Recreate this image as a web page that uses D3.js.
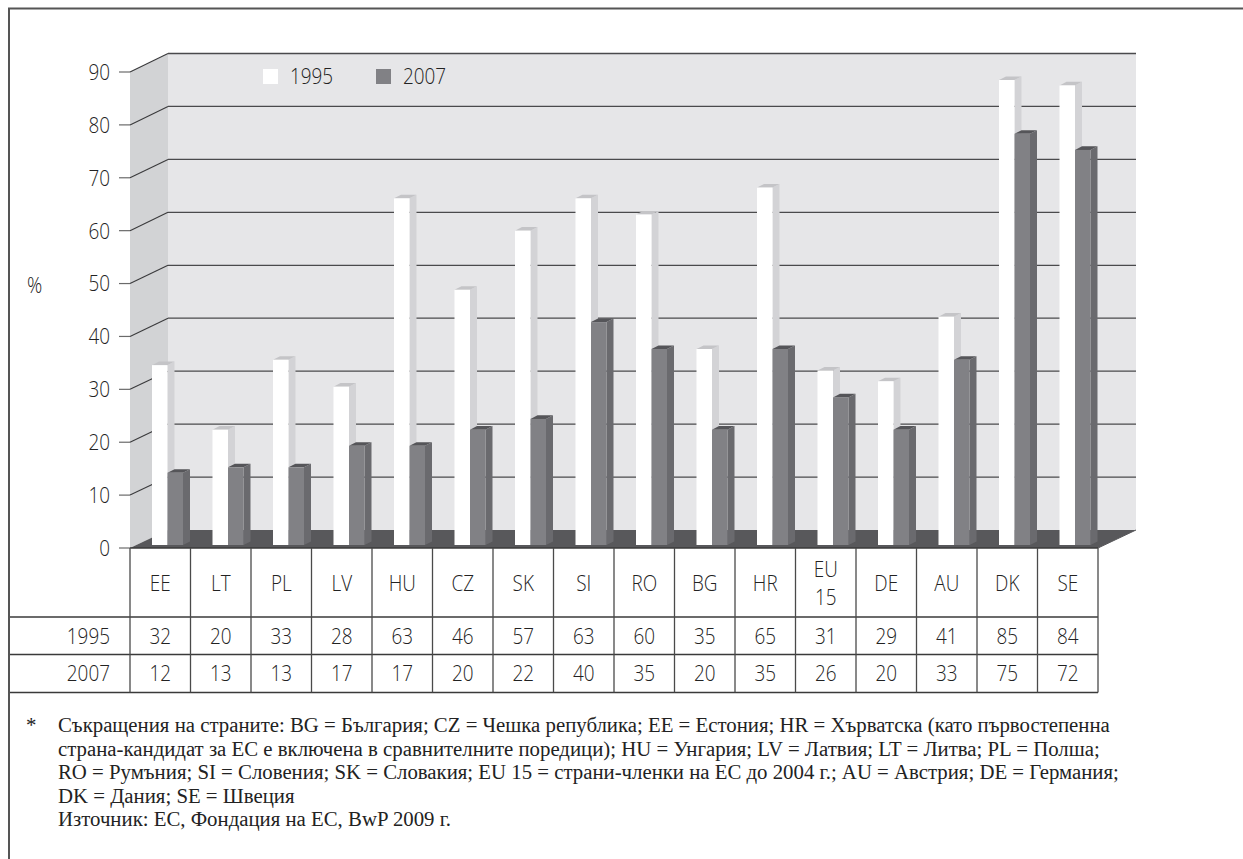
<!DOCTYPE html>
<html>
<head>
<meta charset="utf-8">
<script src="https://cdn.jsdelivr.net/npm/d3@7"></script>
<style>
  body { margin: 0; background: #fff; }
  svg { display: block; }
</style>
</head>
<body>
<svg id="chart" width="1243" height="859"></svg>
<script>
// Data
const categories = ["EE", "LT", "PL", "LV", "HU", "CZ", "SK", "SI", "RO", "BG", "HR", "EU 15", "DE", "AU", "DK", "SE"];
const seriesNames = ["1995", "2007"];
const values1995 = [32, 20, 33, 28, 63, 46, 57, 63, 60, 35, 65, 31, 29, 41, 85, 84];
const values2007 = [12, 13, 13, 17, 17, 20, 22, 40, 35, 20, 35, 26, 20, 33, 75, 72];
const yTickValues = [0, 10, 20, 30, 40, 50, 60, 70, 80, 90];
const axisTitle = "%";
const noteLines = [
  "Съкращения на страните: BG = България; CZ = Чешка република; EE = Естония; HR = Хърватска (като първостепенна",
  "страна-кандидат за ЕС е включена в сравнителните поредици); HU = Унгария; LV = Латвия; LT = Литва; PL = Полша;",
  "RO = Румъния; SI = Словения; SK = Словакия; EU 15 = страни-членки на ЕС до 2004 г.; AU = Австрия; DE = Германия;",
  "DK = Дания; SE = Швеция",
  "Източник: ЕС, Фондация на ЕС, BwP 2009 г."
];

// Style
const sansFont = "'Open Sans', 'Noto Sans', sans-serif";
const serifFont = "'Liberation Serif', 'Times New Roman', serif";
const textColor = "#222";
const squeeze = 0.86;           // horizontal condensing of the sans labels
const sansSize = 22;

const seriesFill = {
  "1995": { front: "#ffffff", side: "#d3d3d6", top: "#c4c4c7" },
  "2007": { front: "#818185", side: "#6a6a6e", top: "#555559" }
};

const svg = d3.select("#chart");

// 3D frame geometry
const frontLeft = 130, frontRight = 1098;
const depthX = 38, depthY = 18;
const yFront = d3.scaleLinear().domain([0, 90]).range([548, 72]);
const yBack = d3.scaleLinear().domain([0, 90]).range([530, 53.5]);
const yBar = d3.scaleLinear().domain([0, 90]).range([537.3, 53.1]);
const barBase = 545;
const x = d3.scaleBand().domain(categories).range([frontLeft, frontRight]).padding(0);
const xSub = d3.scaleBand().domain(seriesNames).range([22, 53]).padding(0);
const barDX = 7, barDY = 3.6;

function sansText(g, str, px, py, anchor, size) {
  return g.append("text")
    .attr("transform", `translate(${px},${py}) scale(${squeeze},1)`)
    .attr("text-anchor", anchor)
    .attr("dy", "0.36em")
    .attr("font-family", sansFont)
    .attr("font-weight", 300)
    .attr("font-size", size || sansSize)
    .attr("fill", textColor)
    .text(str);
}

const plot = svg.append("g");

// back wall
plot.append("rect")
  .attr("x", frontLeft + depthX).attr("y", yBack(90))
  .attr("width", frontRight - frontLeft).attr("height", yBack(0) - yBack(90))
  .attr("fill", "#e6e6e8");

// side wall
plot.append("polygon")
  .attr("points", [
    [frontLeft, yFront(90)], [frontLeft + depthX, yBack(90)],
    [frontLeft + depthX, yBack(0)], [frontLeft, yFront(0)]
  ].map(p => p.join(",")).join(" "))
  .attr("fill", "#d2d3d5");

// floor
plot.append("polygon")
  .attr("points", [
    [frontLeft, yFront(0)], [frontLeft + depthX, yBack(0)],
    [frontRight + depthX, yBack(0)], [frontRight, yFront(0)]
  ].map(p => p.join(",")).join(" "))
  .attr("fill", "#58585b");

// gridlines on the back wall and the side wall
const gridVals = yTickValues.filter(v => v > 0);
plot.selectAll("line.grid").data(gridVals).join("line")
  .attr("class", "grid")
  .attr("x1", frontLeft + depthX).attr("x2", frontRight + depthX)
  .attr("y1", d => yBack(d)).attr("y2", d => yBack(d))
  .attr("stroke", "#4a4a4c").attr("stroke-width", 1.3);
plot.selectAll("line.sidegrid").data(gridVals).join("line")
  .attr("class", "sidegrid")
  .attr("x1", frontLeft).attr("x2", frontLeft + depthX)
  .attr("y1", d => yFront(d)).attr("y2", d => yBack(d))
  .attr("stroke", "#3a3a3c").attr("stroke-width", 1.1);

// axis ticks and labels
const axisG = svg.append("g");
axisG.selectAll("line.tick").data(yTickValues).join("line")
  .attr("class", "tick")
  .attr("x1", frontLeft - 11).attr("x2", frontLeft)
  .attr("y1", d => yFront(d)).attr("y2", d => yFront(d))
  .attr("stroke", "#6a6a6a").attr("stroke-width", 1.2);
yTickValues.forEach(v => sansText(axisG, String(v), 110, yFront(v), "end"));
sansText(axisG, axisTitle, 27, yFront(50) + 2, "start");

// bars
const bars = svg.append("g");
const seriesValues = { "1995": values1995, "2007": values2007 };
categories.forEach((c, i) => {
  seriesNames.forEach(s => {
    const v = seriesValues[s][i];
    const x0 = x(c) + xSub(s);
    const w = xSub.bandwidth();
    const yt = yBar(v);
    const col = seriesFill[s];
    const g = bars.append("g");
    g.append("polygon")
      .attr("points", [[x0 + w, yt], [x0 + w + barDX, yt - barDY], [x0 + w + barDX, barBase - barDY], [x0 + w, barBase]]
        .map(p => p.join(",")).join(" "))
      .attr("fill", col.side);
    g.append("polygon")
      .attr("points", [[x0, yt], [x0 + barDX, yt - barDY], [x0 + w + barDX, yt - barDY], [x0 + w, yt]]
        .map(p => p.join(",")).join(" "))
      .attr("fill", col.top);
    g.append("rect")
      .attr("x", x0).attr("y", yt).attr("width", w).attr("height", barBase - yt)
      .attr("fill", col.front);
  });
});

// data table under the chart
const table = svg.append("g");
const rowTops = [548, 617, 654.5, 692.5];
const lineColor = "#3a3a3a";
table.append("line")
  .attr("x1", frontLeft).attr("x2", frontRight).attr("y1", rowTops[0]).attr("y2", rowTops[0])
  .attr("stroke", lineColor).attr("stroke-width", 1.3);
rowTops.slice(1).forEach(yy => {
  table.append("line")
    .attr("x1", 9).attr("x2", frontRight).attr("y1", yy).attr("y2", yy)
    .attr("stroke", lineColor).attr("stroke-width", 1.3);
});
categories.concat([null]).forEach(c => {
  const xx = c === null ? frontRight : x(c);
  table.append("line")
    .attr("x1", xx).attr("x2", xx).attr("y1", rowTops[0]).attr("y2", rowTops[3])
    .attr("stroke", "#4a4a4a").attr("stroke-width", 1.3);
});
// floor edge at the right
table.append("line")
  .attr("x1", frontRight).attr("y1", yFront(0))
  .attr("x2", frontRight + depthX).attr("y2", yBack(0))
  .attr("stroke", "#58585b").attr("stroke-width", 1);

categories.forEach(c => {
  const cx = x(c) + x.bandwidth() / 2;
  const parts = c.split(" ");
  const mid = (rowTops[0] + rowTops[1]) / 2;
  if (parts.length === 1) {
    sansText(table, c, cx, mid + 1, "middle");
  } else {
    sansText(table, parts[0], cx, mid - 13.5, "middle");
    sansText(table, parts[1], cx, mid + 14.5, "middle");
  }
});
[values1995, values2007].forEach((vals, r) => {
  const mid = (rowTops[r + 1] + rowTops[r + 2]) / 2;
  sansText(table, seriesNames[r], 110, mid, "end");
  vals.forEach((v, i) => {
    sansText(table, String(v), x(categories[i]) + x.bandwidth() / 2, mid, "middle");
  });
});

// legend
const legend = svg.append("g");
const legendX = [263, 376];
seriesNames.forEach((s, i) => {
  legend.append("rect")
    .attr("x", legendX[i]).attr("y", 69).attr("width", 15).attr("height", 15)
    .attr("fill", seriesFill[s].front);
  sansText(legend, s, legendX[i] + 27, 76.5, "start");
});

// notes
const notes = svg.append("g")
  .attr("font-family", serifFont).attr("font-size", 20.8).attr("fill", "#222");
notes.append("text").attr("x", 26).attr("y", 732).text("*");
noteLines.forEach((t, i) => {
  notes.append("text").attr("x", 58).attr("y", 732 + i * 23.6).text(t);
});

// outer frame
svg.append("path")
  .attr("d", "M9,859 L9,8.5 L1243,8.5")
  .attr("fill", "none").attr("stroke", "#555").attr("stroke-width", 2);
</script>
</body>
</html>
